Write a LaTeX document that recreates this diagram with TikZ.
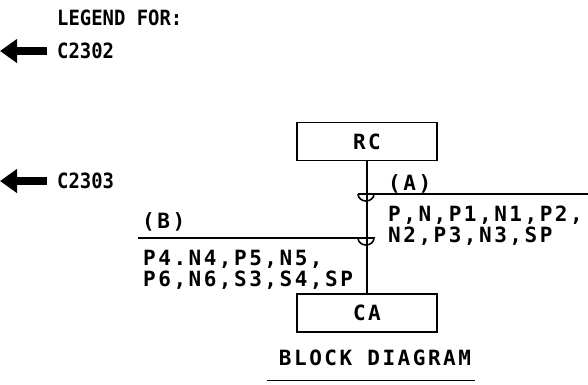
\documentclass[tikz,border=0pt]{standalone}
\usepackage{fontspec}
\usetikzlibrary{arrows.meta}
\newfontfamily\lettering[LetterSpace=12]{DejaVu Sans Mono}
\newfontfamily\legendfont[FakeStretch=0.9]{DejaVu Sans Mono}
\tikzset{
  wire/.style={line width=1.6pt},
  blockbox/.style={draw,line width=1.6pt,minimum width=140pt,minimum height=38pt,
    font=\lettering\bfseries\fontsize{21}{21}\selectfont},
  tag/.style={inner sep=0pt,font=\lettering\bfseries\fontsize{21}{21}\selectfont},
  list/.style={inner sep=0pt,align=left,font=\lettering\bfseries\fontsize{21}{21}\selectfont},
  legend/.style={inner sep=0pt,font=\legendfont\bfseries\fontsize{21}{21}\selectfont},
  legendarrow/.style={line width=8pt,-{Triangle[length=17pt,width=23pt]}},
  junction/.style={line width=1.6pt}
}
\begin{document}
\begin{tikzpicture}[x=1pt,y=-1pt]
\useasboundingbox (0,0) rectangle (588,384);

\node[legend,anchor=west] (legendfor) at (57,18) {LEGEND FOR:};
\node[legend,anchor=west] (c2302) at (57,51) {C2302};
\node[legend,anchor=west] (c2303) at (57,181) {C2303};
\coordinate (tip2302) at (0,51);
\coordinate (tip2303) at (0,181);
\draw[legendarrow] ([xshift=-10pt]c2302.west) -- (tip2302);
\draw[legendarrow] ([xshift=-10pt]c2303.west) -- (tip2303);

\node[blockbox] (rc) at (367,141.5) {RC};
\node[blockbox] (ca) at (367,313) {CA};
\draw[wire] (rc.south) -- (ca.north);

\coordinate (ja) at (366,194);
\coordinate (jb) at (366,238);
\coordinate (aend) at (588,194);
\coordinate (bend) at (138,238);
\draw[wire] (ja) -- (aend);
\draw[wire] (jb) -- (bend);
\draw[junction] ([xshift=-8pt]ja) -- ([xshift=8pt]ja) arc[start angle=0,end angle=180,x radius=8,y radius=7];
\draw[junction] ([xshift=-8pt]jb) -- ([xshift=8pt]jb) arc[start angle=0,end angle=180,x radius=8,y radius=7];

\node[tag,anchor=west] (taga) at (388,184) {(A)};
\node[list,anchor=north west] (lista) at (388,206) {P,N,P1,N1,P2,\\N2,P3,N3,SP};
\node[tag,anchor=west] (tagb) at (142,222) {(B)};
\node[list,anchor=north west] (listb) at (143,250) {P4.N4,P5,N5,\\P6,N6,S3,S4,SP};

\node[tag] (title) at (375,358) {BLOCK DIAGRAM};
\draw[wire] ([xshift=-12pt,yshift=-15pt]title.base west) -- ([xshift=4pt,yshift=-15pt]title.base east);
\end{tikzpicture}
\end{document}
